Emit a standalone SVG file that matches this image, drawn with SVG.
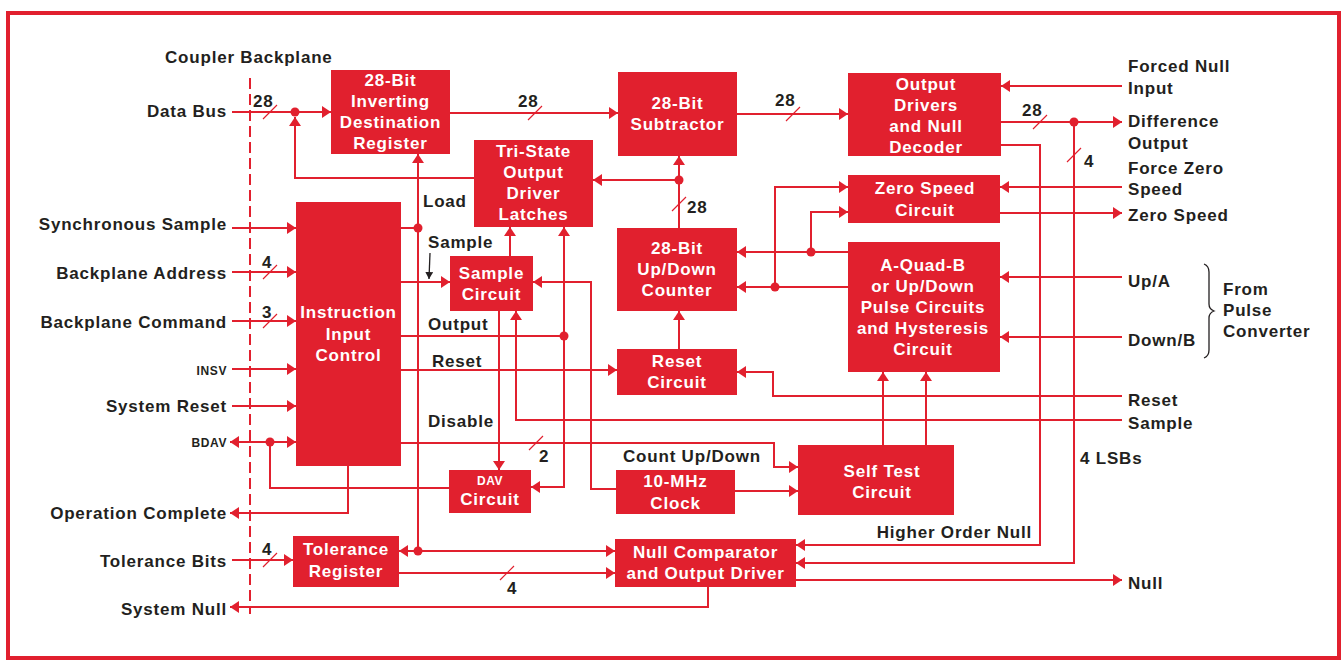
<svg xmlns="http://www.w3.org/2000/svg" width="1343" height="662" viewBox="0 0 1343 662">
<style>
.bx{fill:#e1202e}
.t{font-family:"Liberation Sans",Arial,sans-serif;font-weight:bold;font-size:17px;letter-spacing:0.8px}
.wt{fill:#fff;text-anchor:middle}
.lt{fill:#231f20}
.e{text-anchor:end}
.s{font-size:12px;letter-spacing:0.6px}
.c{fill:none;stroke:#e1202e;stroke-width:2}
.sl{fill:none;stroke:#e1202e;stroke-width:1.2}
.d{fill:#e1202e}
</style>
<defs>
<marker id="a" markerUnits="userSpaceOnUse" viewBox="0 0 9 12" markerWidth="9" markerHeight="12" refX="9" refY="6" orient="auto"><path d="M0,0 L9,6 L0,12 z" fill="#e1202e"/></marker>
<marker id="k" markerUnits="userSpaceOnUse" viewBox="0 0 7 8" markerWidth="7" markerHeight="8" refX="7" refY="4" orient="auto"><path d="M0,0 L7,4 L0,8 z" fill="#231f20"/></marker>
</defs>
<rect x="0" y="0" width="1343" height="662" fill="#fff"/>
<rect x="8" y="13" width="1331" height="645" fill="none" stroke="#e1202e" stroke-width="4"/>
<line x1="250" y1="78" x2="250" y2="614" stroke="#e1202e" stroke-width="2" stroke-dasharray="11 5"/>

<g id="connectors">
<path class="c" d="M232,112 H331" marker-end="url(#a)"/>
<path class="c" d="M474,178 H295 V117" marker-end="url(#a)"/>
<path class="c" d="M232,228 H296" marker-end="url(#a)"/>
<path class="c" d="M232,272 H296" marker-end="url(#a)"/>
<path class="c" d="M232,321 H296" marker-end="url(#a)"/>
<path class="c" d="M232,369 H296" marker-end="url(#a)"/>
<path class="c" d="M232,406 H296" marker-end="url(#a)"/>
<path class="c" d="M270,442 H230" marker-end="url(#a)"/>
<path class="c" d="M270,442 H296" marker-end="url(#a)"/>
<path class="c" d="M270,442 V488 H449"/>
<path class="c" d="M348,466 V513 H230" marker-end="url(#a)"/>
<path class="c" d="M232,560 H293" marker-end="url(#a)"/>
<path class="c" d="M708,587 V607 H230" marker-end="url(#a)"/>
<path class="c" d="M401,228 H418"/>
<path class="c" d="M418,228 V154" marker-end="url(#a)"/>
<path class="c" d="M418,228 V551"/>
<path class="c" d="M418,551 H399" marker-end="url(#a)"/>
<path class="c" d="M418,551 H615" marker-end="url(#a)"/>
<path class="c" d="M401,282 H450" marker-end="url(#a)"/>
<path class="c" d="M401,336 H564"/>
<path class="c" d="M564,336 V227" marker-end="url(#a)"/>
<path class="c" d="M564,336 V487 H531" marker-end="url(#a)"/>
<path class="c" d="M401,370 H617" marker-end="url(#a)"/>
<path class="c" d="M401,443 H774 V467 H798" marker-end="url(#a)"/>
<path class="c" d="M499,311 V470" marker-end="url(#a)"/>
<path class="c" d="M510,256 V227" marker-end="url(#a)"/>
<path class="c" d="M616,489 H591 V282 H533" marker-end="url(#a)"/>
<path class="c" d="M1122,420 H516 V311" marker-end="url(#a)"/>
<path class="c" d="M1122,396 H773 V372 H737" marker-end="url(#a)"/>
<path class="c" d="M735,491 H798" marker-end="url(#a)"/>
<path class="c" d="M679,349 V311" marker-end="url(#a)"/>
<path class="c" d="M679,228 V156" marker-end="url(#a)"/>
<path class="c" d="M679,180 H593" marker-end="url(#a)"/>
<path class="c" d="M450,113 H618" marker-end="url(#a)"/>
<path class="c" d="M737,114 H848" marker-end="url(#a)"/>
<path class="c" d="M1001,122 H1122" marker-end="url(#a)"/>
<path class="c" d="M1074,122 V563 H796" marker-end="url(#a)"/>
<path class="c" d="M1001,145 H1040 V545 H796" marker-end="url(#a)"/>
<path class="c" d="M1122,86 H1001" marker-end="url(#a)"/>
<path class="c" d="M1122,187 H1000" marker-end="url(#a)"/>
<path class="c" d="M1000,213 H1122" marker-end="url(#a)"/>
<path class="c" d="M1122,277 H1000" marker-end="url(#a)"/>
<path class="c" d="M1122,337 H1000" marker-end="url(#a)"/>
<path class="c" d="M848,252 H737" marker-end="url(#a)"/>
<path class="c" d="M811,252 V212 H848" marker-end="url(#a)"/>
<path class="c" d="M848,287 H737" marker-end="url(#a)"/>
<path class="c" d="M775,287 V187 H848" marker-end="url(#a)"/>
<path class="c" d="M883,445 V372" marker-end="url(#a)"/>
<path class="c" d="M926,445 V372" marker-end="url(#a)"/>
<path class="c" d="M399,573 H615" marker-end="url(#a)"/>
<path class="c" d="M796,580 H1122" marker-end="url(#a)"/>
<circle class="d" cx="295" cy="112" r="4.5"/>
<circle class="d" cx="270" cy="442" r="4.5"/>
<circle class="d" cx="418" cy="228" r="4.5"/>
<circle class="d" cx="418" cy="551" r="4.5"/>
<circle class="d" cx="564" cy="336" r="4.5"/>
<circle class="d" cx="679" cy="180" r="4.5"/>
<circle class="d" cx="1074" cy="122" r="4.5"/>
<circle class="d" cx="811" cy="252" r="4.5"/>
<circle class="d" cx="775" cy="287" r="4.5"/>
<path class="sl" d="M263,119 L277,105 M263,279 L277,265 M263,328 L277,314 M263,567 L277,553 M528,120 L542,106 M786,121 L800,107 M1033,129 L1047,115 M1067,162 L1081,148 M672,211 L686,197 M529,450 L543,436 M500,580 L514,566"/>
<path d="M430,253 L429,279" stroke="#231f20" stroke-width="1.3" fill="none" marker-end="url(#k)"/>
<path d="M1204,264 q5,2 5,8 v32 q0,5 5,7 q-5,2 -5,7 v32 q0,6 -5,8" stroke="#231f20" stroke-width="1.3" fill="none"/>
</g>

<g id="labels" class="t lt">
<text x="165" y="63">Coupler Backplane</text>
<text class="e" x="227" y="117">Data Bus</text>
<text class="e" x="227" y="230">Synchronous Sample</text>
<text class="e" x="227" y="279">Backplane Address</text>
<text class="e" x="227" y="328">Backplane Command</text>
<text class="e s" x="227" y="375">INSV</text>
<text class="e" x="227" y="412">System Reset</text>
<text class="e s" x="227" y="447">BDAV</text>
<text class="e" x="227" y="519">Operation Complete</text>
<text class="e" x="227" y="567">Tolerance Bits</text>
<text class="e" x="227" y="615">System Null</text>
<text x="253" y="107">28</text>
<text x="262" y="268">4</text>
<text x="262" y="318">3</text>
<text x="262" y="555">4</text>
<text x="518" y="107">28</text>
<text x="775" y="106">28</text>
<text x="1022" y="116">28</text>
<text x="1084" y="167">4</text>
<text x="687" y="213">28</text>
<text x="539" y="462">2</text>
<text x="507" y="594">4</text>
<text x="423" y="207">Load</text>
<text x="428" y="248">Sample</text>
<text x="428" y="330">Output</text>
<text x="432" y="367">Reset</text>
<text x="428" y="427">Disable</text>
<text x="623" y="462">Count Up/Down</text>
<text class="e" x="1032" y="538">Higher Order Null</text>
<text x="1080" y="464">4 LSBs</text>
<text x="1128" y="72">Forced Null</text>
<text x="1128" y="94">Input</text>
<text x="1128" y="127">Difference</text>
<text x="1128" y="149">Output</text>
<text x="1128" y="174">Force Zero</text>
<text x="1128" y="195">Speed</text>
<text x="1128" y="221">Zero Speed</text>
<text x="1128" y="287">Up/A</text>
<text x="1128" y="346">Down/B</text>
<text x="1128" y="406">Reset</text>
<text x="1128" y="429">Sample</text>
<text x="1128" y="589">Null</text>
<text x="1223" y="295">From</text>
<text x="1223" y="316">Pulse</text>
<text x="1223" y="337">Converter</text>
</g>

<g id="reg" class="t wt"><rect class="bx" x="331" y="70" width="119" height="84"/>
<text x="390.5" y="86">28-Bit</text><text x="390.5" y="107">Inverting</text><text x="390.5" y="128">Destination</text><text x="390.5" y="149">Register</text></g>
<g id="tri" class="t wt"><rect class="bx" x="474" y="140" width="119" height="87"/>
<text x="533.5" y="157">Tri-State</text><text x="533.5" y="178">Output</text><text x="533.5" y="199">Driver</text><text x="533.5" y="220">Latches</text></g>
<g id="sub" class="t wt"><rect class="bx" x="618" y="72" width="119" height="84"/>
<text x="677.5" y="109">28-Bit</text><text x="677.5" y="130">Subtractor</text></g>
<g id="odr" class="t wt"><rect class="bx" x="848" y="73" width="153" height="83"/>
<text x="926" y="90">Output</text><text x="926" y="111">Drivers</text><text x="926" y="132">and Null</text><text x="926" y="153">Decoder</text></g>
<g id="zsc" class="t wt"><rect class="bx" x="848" y="175" width="152" height="48"/>
<text x="925" y="194">Zero Speed</text><text x="925" y="216">Circuit</text></g>
<g id="aqb" class="t wt"><rect class="bx" x="848" y="242" width="152" height="130"/>
<text x="923" y="271">A-Quad-B</text><text x="923" y="292">or Up/Down</text><text x="923" y="313">Pulse Circuits</text><text x="923" y="334">and Hysteresis</text><text x="923" y="355">Circuit</text></g>
<g id="cnt" class="t wt"><rect class="bx" x="617" y="228" width="120" height="83"/>
<text x="677" y="254">28-Bit</text><text x="677" y="275">Up/Down</text><text x="677" y="296">Counter</text></g>
<g id="iic" class="t wt"><rect class="bx" x="296" y="202" width="105" height="264"/>
<text x="348.5" y="318">Instruction</text><text x="348.5" y="340">Input</text><text x="348.5" y="361">Control</text></g>
<g id="smp" class="t wt"><rect class="bx" x="450" y="256" width="83" height="55"/>
<text x="491.5" y="279">Sample</text><text x="491.5" y="300">Circuit</text></g>
<g id="rst" class="t wt"><rect class="bx" x="617" y="349" width="120" height="46"/>
<text x="677" y="367">Reset</text><text x="677" y="388">Circuit</text></g>
<g id="dav" class="t wt"><rect class="bx" x="449" y="470" width="82" height="43"/>
<text class="s" x="490" y="485">DAV</text><text x="490" y="505">Circuit</text></g>
<g id="clk" class="t wt"><rect class="bx" x="616" y="470" width="119" height="44"/>
<text x="675.5" y="487">10-MHz</text><text x="675.5" y="509">Clock</text></g>
<g id="stc" class="t wt"><rect class="bx" x="798" y="445" width="156" height="70"/>
<text x="882" y="477">Self Test</text><text x="882" y="498">Circuit</text></g>
<g id="nco" class="t wt"><rect class="bx" x="615" y="539" width="181" height="48"/>
<text x="705.5" y="558">Null Comparator</text><text x="705.5" y="579">and Output Driver</text></g>
<g id="tol" class="t wt"><rect class="bx" x="293" y="536" width="106" height="51"/>
<text x="346" y="555">Tolerance</text><text x="346" y="577">Register</text></g>
</svg>
